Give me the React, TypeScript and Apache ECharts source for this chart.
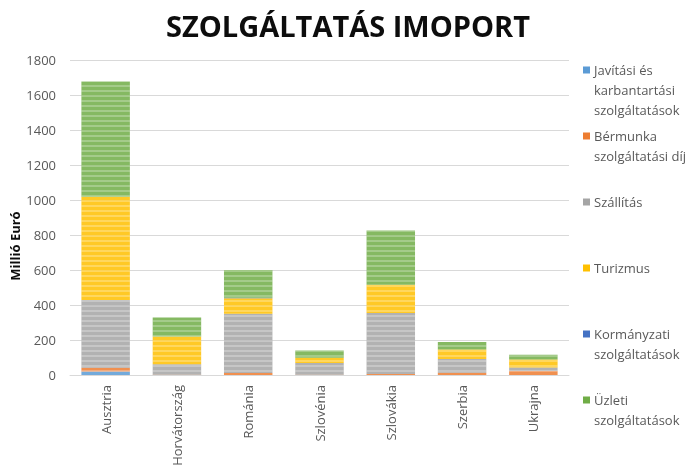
import React, { useEffect, useRef } from "react";
import * as echarts from "echarts";

const categories = ["Ausztria", "Horvátország", "Románia", "Szlovénia", "Szlovákia", "Szerbia", "Ukrajna"];
const seriesNames = [
  "Javítási és karbantartási szolgáltatások",
  "Bérmunka szolgáltatási díj",
  "Szállítás",
  "Turizmus",
  "Kormányzati szolgáltatások",
  "Üzleti szolgáltatások",
];
const legendLabels = [
  "Javítási és\nkarbantartási\nszolgáltatások",
  "Bérmunka\nszolgáltatási díj",
  "Szállítás",
  "Turizmus",
  "Kormányzati\nszolgáltatások",
  "Üzleti\nszolgáltatások",
];
const javitasi = [20, 0, 0, 0, 0, 0, 0];
const bermunka = [22, 2, 12, 2, 6, 13, 23];
const szallitas = [387, 60, 338, 66, 348, 78, 20];
const turizmus = [590, 158, 88, 30, 162, 55, 46];
const kormanyzati = [0, 0, 4, 0, 0, 0, 0];
const uzleti = [658, 108, 158, 42, 310, 42, 27];
const yTicks = { min: 0, max: 1800, interval: 200 };

const colors = ["#5B9BD5", "#ED7D31", "#A5A5A5", "#FFC000", "#4472C4", "#70AD47"];
const FONT = "'Open Sans', sans-serif";

export default function App() {
  const ref = useRef<HTMLDivElement>(null);
  useEffect(() => {
    if (!ref.current) return;
    const chart = echarts.init(ref.current, undefined, { renderer: "svg" });
    const values = [javitasi, bermunka, szallitas, turizmus, kormanyzati, uzleti];
    const legendGraphics: any[] = [];
    legendLabels.forEach((label, i) => {
      const cy = 70 + i * 66;
      legendGraphics.push({
        type: "rect",
        shape: { x: 583, y: cy - 3.5, width: 7, height: 7 },
        style: { fill: colors[i] },
      });
      legendGraphics.push({
        type: "text",
        x: 594,
        y: cy - 10,
        style: {
          text: label,
          font: `13px ${FONT}`,
          fill: "#595959",
          lineHeight: 20,
          verticalAlign: "top",
          textAlign: "left",
        },
      });
    });
    chart.setOption({
      animation: false,
      color: colors,
      title: {
        text: "SZOLGÁLTATÁS IMOPORT",
        left: "center",
        top: 6,
        textStyle: { fontFamily: FONT, fontSize: 29, fontWeight: "bold", color: "#0d0d0d" },
      },
      grid: { left: 70, right: 127, top: 60, bottom: 97, containLabel: false },
      xAxis: {
        type: "category",
        data: categories,
        axisLine: { lineStyle: { color: "#d9d9d9", width: 1 } },
        axisTick: { show: false },
        axisLabel: { rotate: 90, margin: 10, fontFamily: FONT, fontSize: 13, color: "#595959" },
      },
      yAxis: {
        type: "value",
        min: yTicks.min,
        max: yTicks.max,
        interval: yTicks.interval,
        axisLine: { show: false },
        axisTick: { show: false },
        splitLine: { lineStyle: { color: "#d9d9d9", width: 1 } },
        axisLabel: {
          margin: 14,
          fontFamily: FONT,
          fontSize: 13,
          color: "#595959",
          formatter: (v: number) => String(v),
        },
      },
      graphic: [
        {
          type: "text",
          x: 15,
          y: 246,
          rotation: Math.PI / 2,
          style: {
            text: "Millió Euró",
            font: `bold 13px ${FONT}`,
            fill: "#0d0d0d",
            textAlign: "center",
            textVerticalAlign: "middle",
          },
        },
        ...legendGraphics,
      ],
      series: seriesNames.map((name, i) => ({
        name,
        type: "bar",
        stack: "total",
        barCategoryGap: "32%",
        data: values[i],
        itemStyle: {
          color: colors[i],
          opacity: 0.85,
          decal: {
            symbol: "rect",
            symbolSize: 1,
            dashArrayX: [1, 0],
            dashArrayY: [2, 3],
            color: "rgba(255,255,255,0.3)",
          },
        },
      })),
    });
    return () => chart.dispose();
  }, []);
  return <div ref={ref} style={{ position: "fixed", left: 0, top: 0, width: 696, height: 472 }} />;
}
